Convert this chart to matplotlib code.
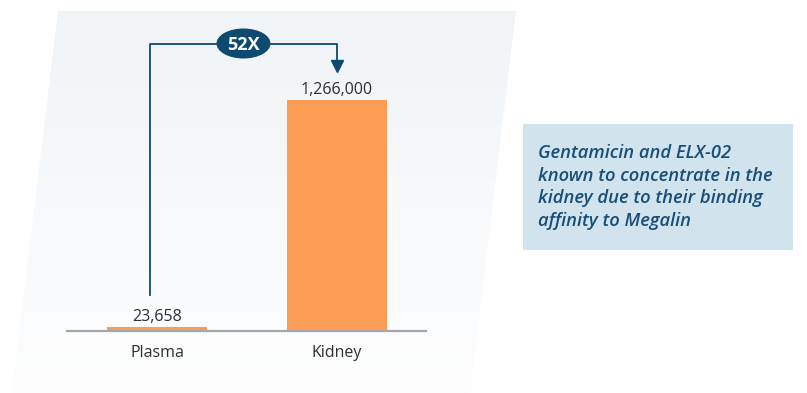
import numpy as np
import matplotlib
matplotlib.use('Agg')
import matplotlib.pyplot as plt
from matplotlib.patches import Polygon, Ellipse, Rectangle

# data
categories = ['Plasma', 'Kidney']
values = [23658, 1266000]
value_labels = ['23,658', '1,266,000']
ratio_label = '52X'
note = 'Gentamicin and ELX-02\nknown to concentrate in the\nkidney due to their binding\naffinity to Megalin'

W, H = 807, 393
plt.rcParams['font.family'] = ['Open Sans', 'DejaVu Sans']

fig = plt.figure(figsize=(W / 100, H / 100), dpi=100)
fig.patch.set_facecolor('white')

# canvas axes in pixel coordinates (background, bracket, note box)
cv = fig.add_axes([0, 0, 1, 1], zorder=0)
cv.set_xlim(0, W)
cv.set_ylim(H, 0)
cv.axis('off')

# slanted gradient panel
grad = np.linspace(0, 1, 256).reshape(-1, 1)
top_c = np.array([0.941, 0.957, 0.969])
bot_c = np.array([0.995, 0.996, 0.998])
img = top_c + (bot_c - top_c) * grad
img = np.repeat(img[:, None, :], 2, axis=1).reshape(256, 2, 3)
panel = Polygon([(58, 11), (516, 11), (470, 393), (12, 393)], closed=True,
                facecolor='none', edgecolor='none')
cv.add_patch(panel)
im = cv.imshow(img, extent=(0, W, 393, 11), aspect='auto', zorder=0)
im.set_clip_path(panel)

# main bar axes
base_y = 331
top_y = 11
ax = fig.add_axes([67 / W, (H - base_y) / H, (426 - 67) / W, (base_y - top_y) / H], zorder=1)
ax.patch.set_alpha(0)
x = np.arange(len(categories))
bar_top_px = 100
ymax = values[1] * (base_y - top_y) / (base_y - bar_top_px)
ax.bar(x, values, width=100 / 180, color='#fc9c55', zorder=2)
ax.set_xlim(-0.5, 1.494)
ax.set_ylim(0, ymax)
for s in ['top', 'right', 'left']:
    ax.spines[s].set_visible(False)
ax.spines['bottom'].set_color('#a6a6a6')
ax.spines['bottom'].set_linewidth(1.6)
ax.set_yticks([])
ax.set_xticks(x)
ax.set_xticklabels(categories, fontsize=11.5, color='#2e2e2e', fontweight='medium')
ax.tick_params(axis='x', length=0, pad=10)
for xi, v, lab in zip(x, values, value_labels):
    ax.annotate(lab, (xi, v), xytext=(0, 1.5), textcoords='offset points',
                ha='center', va='bottom', fontsize=11.5, color='#2e2e2e',
                fontweight='medium')

# bracket with 52X badge
navy = '#0d4a6f'
lx, rx, by, ty = 150, 337, 295, 43.5
cv.plot([lx, lx, rx, rx], [by, ty, ty, 62], color=navy, lw=1.3, zorder=3)
cv.plot([rx], [65.5], marker='v', markersize=8, color=navy, zorder=3)
cv.add_patch(Ellipse(((lx + rx) / 2, ty), 54, 30, facecolor=navy, edgecolor='none', zorder=4))
cv.text((lx + rx) / 2, ty + 1, ratio_label, ha='center', va='center', color='white',
        fontsize=13, fontweight='bold', zorder=5)

# note box
cv.add_patch(Rectangle((523, 124), 270, 126, facecolor='#d1e4ee', edgecolor='none', zorder=1))
cv.text(538, 187, note, ha='left', va='center', fontsize=13.2, fontstyle='italic',
        fontweight='semibold', color='#1a4e78', linespacing=1.32, zorder=2)

fig.savefig('out.png', dpi=100)
